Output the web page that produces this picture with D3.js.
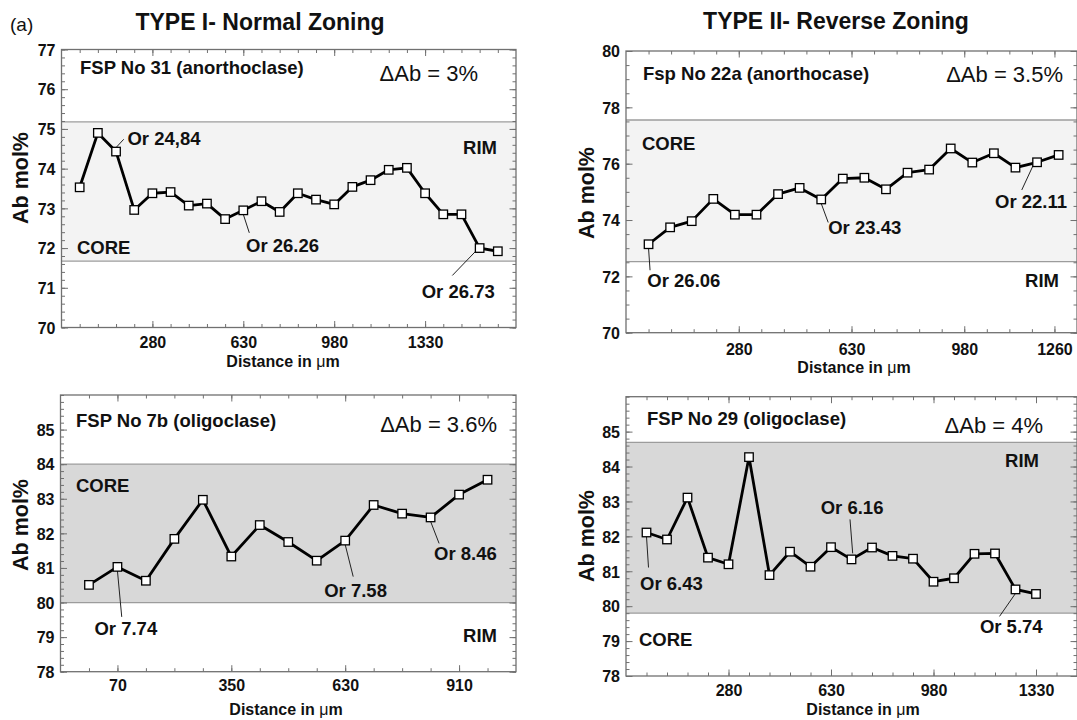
<!DOCTYPE html>
<html>
<head>
<meta charset="utf-8">
<script src="https://cdn.jsdelivr.net/npm/d3@7"></script>
<style>
  html, body { margin: 0; padding: 0; background: #fff; }
  svg { display: block; }
</style>
</head>
<body>
<svg id="chart" width="1077" height="720"></svg>
<script>
// ---------------- DATA ----------------
const figureTag = "(a)";
const columnTitles = ["TYPE I- Normal Zoning", "TYPE II- Reverse Zoning"];

// Panel 1: FSP No 31 (anorthoclase)
const p1Name = "FSP No 31 (anorthoclase)";
const p1Delta = "ΔAb = 3%";
const p1Distance = [0,70,140,210,280,350,420,490,560,630,700,770,840,910,980,1050,1120,1190,1260,1330,1400,1470,1540,1610];
const p1Ab = [73.53,74.90,74.43,72.96,73.38,73.41,73.07,73.12,72.73,72.95,73.18,72.91,73.38,73.22,73.10,73.54,73.71,73.97,74.02,73.38,72.85,72.85,72.00,71.92];
const p1Band = [71.67, 75.18];
const p1XTicks = [280, 630, 980, 1330];
const p1YTicks = [70, 71, 72, 73, 74, 75, 76, 77];
const p1Zones = ["RIM", "CORE"];
const p1Notes = ["Or 24,84", "Or 26.26", "Or 26.73"];
const p1NoteIdx = [2, 9, 22];

// Panel 2: Fsp No 22a (anorthocase)
const p2Name = "Fsp No 22a (anorthocase)";
const p2Delta = "ΔAb = 3.5%";
const p2Distance = [0,67,134,201,268,335,402,469,536,603,670,737,804,871,938,1005,1072,1139,1206,1273];
const p2Ab = [73.14,73.74,73.96,74.75,74.19,74.19,74.92,75.14,74.73,75.47,75.50,75.09,75.68,75.79,76.54,76.04,76.37,75.86,76.05,76.31];
const p2Band = [72.52, 77.55];
const p2XTicks = [280, 630, 980, 1260];
const p2YTicks = [70, 72, 74, 76, 78, 80];
const p2Zones = ["CORE", "RIM"];
const p2Notes = ["Or 26.06", "Or 23.43", "Or 22.11"];
const p2NoteIdx = [0, 8, 18];

// Panel 3: FSP No 7b (oligoclase)
const p3Name = "FSP No 7b (oligoclase)";
const p3Delta = "ΔAb = 3.6%";
const p3Distance = [0,70,140,210,280,350,420,490,560,630,700,770,840,910,980];
const p3Ab = [80.51,81.03,80.63,81.84,82.97,81.33,82.24,81.75,81.21,81.79,82.82,82.57,82.46,83.12,83.55];
const p3Band = [80.0, 84.0];
const p3XTicks = [70, 350, 630, 910];
const p3YTicks = [78, 79, 80, 81, 82, 83, 84, 85];
const p3Zones = ["CORE", "RIM"];
const p3Notes = ["Or 7.74", "Or 7.58", "Or 8.46"];
const p3NoteIdx = [1, 9, 12];

// Panel 4: FSP No 29 (oligoclase)
const p4Name = "FSP No 29 (oligoclase)";
const p4Delta = "ΔAb = 4%";
const p4Distance = [0,70,140,210,280,350,420,490,560,630,700,770,840,910,980,1050,1120,1190,1260,1330];
const p4Ab = [82.11,81.91,83.11,81.39,81.20,84.27,80.89,81.56,81.13,81.69,81.34,81.68,81.44,81.36,80.70,80.80,81.50,81.51,80.48,80.35];
const p4Band = [79.80, 84.69];
const p4XTicks = [280, 630, 980, 1330];
const p4YTicks = [78, 79, 80, 81, 82, 83, 84, 85];
const p4Zones = ["RIM", "CORE"];
const p4Notes = ["Or 6.43", "Or 6.16", "Or 5.74"];
const p4NoteIdx = [0, 10, 18];

const yAxisTitle = "Ab mol%";
const xAxisTitle = ["Distance in ", "μ", "m"];

// ---------------- LAYOUT ----------------
const FONT = "'Liberation Sans', Arial, Helvetica, sans-serif";
const svg = d3.select("#chart");

const panels = [
  { name: p1Name, delta: p1Delta, xs: p1Distance, ys: p1Ab, band: p1Band, xTicks: p1XTicks, yTicks: p1YTicks,
    zones: p1Zones, notes: p1Notes, noteIdx: p1NoteIdx,
    box: {l: 61.5, r: 516, t: 49.5, b: 327.5}, xDom: [-70, 1680], yDom: [70, 77], yMinor: 0.2, minorEnd: 1610,
    bandFill: "#f3f3f3", xLabY: 20.5,
    namePos: [80, 74], deltaPos: [478, 80.5], zonePos: [[497, 154, "end"], [77, 254, "start"]],
    yTitlePos: [27.5, 178], xTitlePos: [283, 367],
    noteLayout: [ {lead:[0,-4,7.7,-12.3], txt:[11.4,-6.4]}, {lead:[0,4,6,22.5], txt:[2.7,42]}, {lead:[-3.6,2.8,-27.3,27.4], txt:[-57.9,49.8]} ] },
  { name: p2Name, delta: p2Delta, xs: p2Distance, ys: p2Ab, band: p2Band, xTicks: p2XTicks, yTicks: p2YTicks,
    zones: p2Zones, notes: p2Notes, noteIdx: p2NoteIdx,
    box: {l: 626, r: 1077, t: 51, b: 332.7}, xDom: [-70, 1330], yDom: [70, 80], yMinor: 0.5, minorEnd: 1330,
    bandFill: "#f3f3f3", xLabY: 22,
    namePos: [643, 80], deltaPos: [1063, 82], zonePos: [[642, 150, "start"], [1059, 287, "end"]],
    yTitlePos: [593.5, 193], xTitlePos: [854, 373],
    noteLayout: [ {lead:[0,4,1.5,26], txt:[-1.2,43]}, {lead:[0,4,7,23], txt:[7,35]}, {lead:[-3.7,2.7,-15.3,27.7], txt:[-42,46]} ] },
  { name: p3Name, delta: p3Delta, xs: p3Distance, ys: p3Ab, band: p3Band, xTicks: p3XTicks, yTicks: p3YTicks,
    zones: p3Zones, notes: p3Notes, noteIdx: p3NoteIdx,
    box: {l: 60.5, r: 516, t: 395, b: 671.7}, xDom: [-70, 1050], yDom: [78, 86], yMinor: 0.2, minorEnd: 980,
    bandFill: "#d8d8d8", xLabY: 19,
    namePos: [76, 427], deltaPos: [497, 432], zonePos: [[76, 492, "start"], [497, 642, "end"]],
    yTitlePos: [27.5, 525], xTitlePos: [286, 715],
    noteLayout: [ {lead:[0,4,4.3,50], txt:[-23,68]}, {lead:[0,4,8,36], txt:[-21,56]}, {lead:[0,4,8.5,26], txt:[3.5,42.6]} ] },
  { name: p4Name, delta: p4Delta, xs: p4Distance, ys: p4Ab, band: p4Band, xTicks: p4XTicks, yTicks: p4YTicks,
    zones: p4Zones, notes: p4Notes, noteIdx: p4NoteIdx,
    box: {l: 626, r: 1077, t: 396.7, b: 676}, xDom: [-70, 1470], yDom: [78, 86], yMinor: 0.2, minorEnd: 1400,
    bandFill: "#d8d8d8", xLabY: 19.5,
    namePos: [647, 425], deltaPos: [1043, 433], zonePos: [[1039, 467, "end"], [639, 646, "start"]],
    yTitlePos: [593.5, 536], xTitlePos: [863, 715],
    noteLayout: [ {lead:[0,4,2,35], txt:[-6.5,57.4]}, {lead:[-1.5,-40,1.2,-6], txt:[-30.8,-45]}, {lead:[0,4,-16,27], txt:[-35.6,44]} ] }
];

// Column titles and figure tag
svg.append("text").attr("x", 10).attr("y", 31).attr("font-family", FONT).attr("font-size", 19)
  .attr("fill", "#111").text(figureTag);
svg.append("text").attr("x", 260).attr("y", 29.5).attr("text-anchor", "middle").attr("font-family", FONT)
  .attr("font-size", 23).attr("font-weight", "bold").attr("fill", "#111").text(columnTitles[0]);
svg.append("text").attr("x", 836).attr("y", 28.5).attr("text-anchor", "middle").attr("font-family", FONT)
  .attr("font-size", 23).attr("font-weight", "bold").attr("fill", "#111").text(columnTitles[1]);

const AXIS_COLOR = "#707070";

panels.forEach(p => {
  const {l, r, t, b} = p.box;
  const x = d3.scaleLinear().domain(p.xDom).range([l, r]);
  const y = d3.scaleLinear().domain(p.yDom).range([b, t]);
  const g = svg.append("g");

  // band
  g.append("rect").attr("x", l).attr("width", r - l)
    .attr("y", y(p.band[1])).attr("height", y(p.band[0]) - y(p.band[1]))
    .attr("fill", p.bandFill);
  p.band.forEach(v => {
    g.append("line").attr("x1", l).attr("x2", r).attr("y1", y(v)).attr("y2", y(v))
      .attr("stroke", "#9c9c9c").attr("stroke-width", 1.3);
  });

  // axes (ticks inward on all four sides)
  const xMinor = d3.range(0, p.minorEnd + 1, 70);
  const yMinor = d3.range(p.yDom[0], p.yDom[1] + 1e-6, p.yMinor);

  const styleAxis = sel => {
    sel.select(".domain").remove();
    sel.selectAll("line").attr("stroke", AXIS_COLOR).attr("stroke-width", 1);
  };

  const mk = (axis, tx, ty) => g.append("g").attr("transform", `translate(${tx},${ty})`).call(axis).call(styleAxis);

  mk(d3.axisBottom(x).tickValues(xMinor).tickSize(-3.5).tickFormat(""), 0, b);
  mk(d3.axisTop(x).tickValues(xMinor).tickSize(-3.5).tickFormat(""), 0, t);
  mk(d3.axisTop(x).tickValues(p.xTicks).tickSize(-6.5).tickFormat(""), 0, t);
  const xa = mk(d3.axisBottom(x).tickValues(p.xTicks).tickSize(-6.5).tickFormat(d3.format("d")), 0, b);
  xa.selectAll("text").attr("y", p.xLabY).attr("dy", null)
    .attr("font-family", FONT).attr("font-size", 16).attr("font-weight", "bold").attr("fill", "#111");

  mk(d3.axisLeft(y).tickValues(yMinor).tickSize(-3.5).tickFormat(""), l, 0);
  mk(d3.axisRight(y).tickValues(yMinor).tickSize(-3.5).tickFormat(""), r, 0);
  mk(d3.axisRight(y).tickValues(p.yTicks).tickSize(-6.5).tickFormat(""), r, 0);
  const ya = mk(d3.axisLeft(y).tickValues(p.yTicks).tickSize(-6.5).tickFormat(d3.format("d")), l, 0);
  ya.selectAll("text").attr("x", -6).attr("dy", "0.36em")
    .attr("font-family", FONT).attr("font-size", 16).attr("font-weight", "bold").attr("fill", "#111");

  // frame
  g.append("rect").attr("x", l).attr("y", t).attr("width", r - l).attr("height", b - t)
    .attr("fill", "none").attr("stroke", AXIS_COLOR).attr("stroke-width", 1.3);

  // leader lines for annotations
  p.noteIdx.forEach((idx, k) => {
    const px = x(p.xs[idx]), py = y(p.ys[idx]);
    const L = p.noteLayout[k];
    g.append("line").attr("x1", px + L.lead[0]).attr("y1", py + L.lead[1])
      .attr("x2", px + L.lead[2]).attr("y2", py + L.lead[3])
      .attr("stroke", "#222").attr("stroke-width", 1);
  });

  // series
  const pts = p.xs.map((d, i) => [d, p.ys[i]]);
  g.append("path").datum(pts)
    .attr("d", d3.line().x(d => x(d[0])).y(d => y(d[1])))
    .attr("fill", "none").attr("stroke", "#000").attr("stroke-width", 2.8).attr("stroke-linejoin", "round");
  const S = 8.5;
  g.selectAll("rect.pt").data(pts).enter().append("rect").attr("class", "pt")
    .attr("x", d => x(d[0]) - S / 2).attr("y", d => y(d[1]) - S / 2)
    .attr("width", S).attr("height", S)
    .attr("fill", "#fff").attr("stroke", "#000").attr("stroke-width", 1.3);

  // annotation texts
  p.noteIdx.forEach((idx, k) => {
    const px = x(p.xs[idx]), py = y(p.ys[idx]);
    const L = p.noteLayout[k];
    g.append("text").attr("x", px + L.txt[0]).attr("y", py + L.txt[1])
      .attr("font-family", FONT).attr("font-size", 18.5).attr("font-weight", "bold").attr("fill", "#111")
      .text(p.notes[k]);
  });

  // panel name + delta
  g.append("text").attr("x", p.namePos[0]).attr("y", p.namePos[1])
    .attr("font-family", FONT).attr("font-size", 18.5).attr("font-weight", "bold").attr("fill", "#111").text(p.name);
  g.append("text").attr("x", p.deltaPos[0]).attr("y", p.deltaPos[1]).attr("text-anchor", "end")
    .attr("font-family", FONT).attr("font-size", 22).attr("fill", "#111").text(p.delta);

  // zone labels
  p.zones.forEach((z, k) => {
    const zp = p.zonePos[k];
    g.append("text").attr("x", zp[0]).attr("y", zp[1]).attr("text-anchor", zp[2])
      .attr("font-family", FONT).attr("font-size", 18.5).attr("font-weight", "bold").attr("fill", "#111").text(z);
  });

  // axis titles
  g.append("text").attr("transform", `translate(${p.yTitlePos[0]},${p.yTitlePos[1]}) rotate(-90)`)
    .attr("text-anchor", "middle").attr("font-family", FONT).attr("font-size", 21.5).attr("font-weight", "bold")
    .attr("fill", "#111").text(yAxisTitle);
  const xt = g.append("text").attr("x", p.xTitlePos[0]).attr("y", p.xTitlePos[1]).attr("text-anchor", "middle")
    .attr("font-family", FONT).attr("font-size", 16).attr("font-weight", "bold").attr("fill", "#111");
  xt.append("tspan").text(xAxisTitle[0]);
  xt.append("tspan").attr("font-weight", "normal").text(xAxisTitle[1]);
  xt.append("tspan").text(xAxisTitle[2]);
});
</script>
</body>
</html>
